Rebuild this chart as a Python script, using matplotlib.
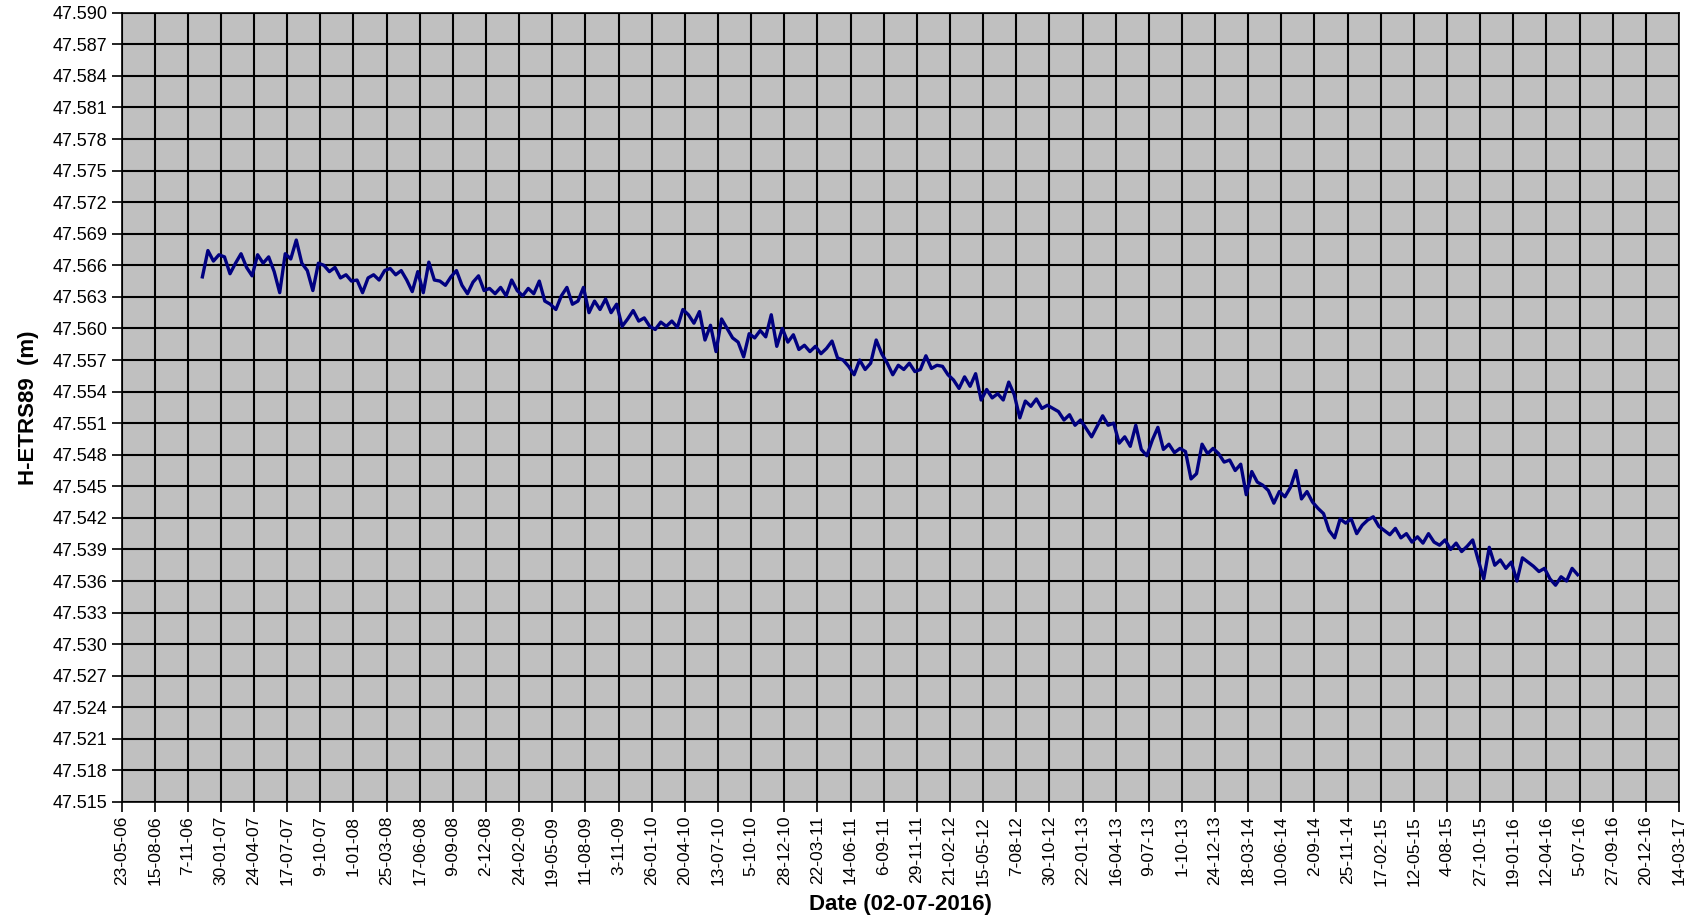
import matplotlib
matplotlib.use("Agg")
import matplotlib.pyplot as plt
import pandas as pd
import numpy as np
from datetime import datetime

plt.rcParams['font.family'] = ['Liberation Sans', 'DejaVu Sans']

# ---- data ----
start_date = "2006-12-14"
step = "14D"
heights = [
    47.5649, 47.5674, 47.5664, 47.5670,
    47.5668, 47.5652, 47.5662, 47.5671, 47.5658, 47.5650,
    47.5670, 47.5662, 47.5668, 47.5654, 47.5634, 47.5671,
    47.5666, 47.5684, 47.5662, 47.5655, 47.5636, 47.5662,
    47.5660, 47.5654, 47.5658, 47.5648, 47.5651, 47.5645,
    47.5646, 47.5634, 47.5648, 47.5651, 47.5646, 47.5655,
    47.5657, 47.5651, 47.5655, 47.5646, 47.5635, 47.5654,
    47.5634, 47.5663, 47.5646, 47.5645, 47.5641, 47.5649,
    47.5655, 47.5641, 47.5633, 47.5644, 47.5650, 47.5636,
    47.5638, 47.5633, 47.5639, 47.5631, 47.5646, 47.5636,
    47.5631, 47.5638, 47.5633, 47.5645, 47.5626, 47.5623,
    47.5618, 47.5631, 47.5639, 47.5623, 47.5626, 47.5639,
    47.5615, 47.5626, 47.5618, 47.5628, 47.5615, 47.5623,
    47.5602, 47.5609, 47.5617, 47.5607, 47.5610, 47.5602,
    47.5599, 47.5606, 47.5602, 47.5607, 47.5601, 47.5618,
    47.5613, 47.5605, 47.5616, 47.5589, 47.5603, 47.5578,
    47.5609, 47.5600, 47.5591, 47.5587, 47.5573, 47.5595,
    47.5591, 47.5598, 47.5592, 47.5613, 47.5583, 47.5600,
    47.5587, 47.5594, 47.5580, 47.5584, 47.5578, 47.5583,
    47.5576, 47.5581, 47.5588, 47.5572, 47.5570, 47.5564,
    47.5556, 47.5570, 47.5561, 47.5567, 47.5589, 47.5576,
    47.5567, 47.5556, 47.5565, 47.5561, 47.5567, 47.5559,
    47.5561, 47.5574, 47.5562, 47.5565, 47.5564, 47.5556,
    47.5551, 47.5543, 47.5554, 47.5545, 47.5557, 47.5532,
    47.5542, 47.5534, 47.5538, 47.5532, 47.5549, 47.5537,
    47.5515, 47.5531, 47.5526, 47.5533, 47.5524, 47.5527,
    47.5524, 47.5521, 47.5513, 47.5518, 47.5508, 47.5513,
    47.5505, 47.5497, 47.5507, 47.5517, 47.5508, 47.5510,
    47.5491, 47.5497, 47.5488, 47.5508, 47.5485, 47.5479,
    47.5494, 47.5506, 47.5485, 47.5490, 47.5482, 47.5486,
    47.5483, 47.5457, 47.5462, 47.5490, 47.5481, 47.5486,
    47.5481, 47.5473, 47.5475, 47.5465, 47.5471, 47.5442,
    47.5464, 47.5454, 47.5451, 47.5446, 47.5434, 47.5445,
    47.5440, 47.5449, 47.5465, 47.5438, 47.5445, 47.5435,
    47.5429, 47.5424, 47.5408, 47.5401, 47.5419, 47.5415,
    47.5419, 47.5405, 47.5413, 47.5418, 47.5421, 47.5412,
    47.5408, 47.5404, 47.5410, 47.5401, 47.5405, 47.5397,
    47.5402, 47.5396, 47.5405, 47.5397, 47.5394, 47.5399,
    47.5390, 47.5396, 47.5388, 47.5393, 47.5399, 47.5380,
    47.5362, 47.5392, 47.5375, 47.5380, 47.5372, 47.5378,
    47.5360, 47.5382, 47.5378, 47.5374, 47.5369, 47.5372,
    47.5362, 47.5356, 47.5364, 47.5360, 47.5372, 47.5366,
]
x_tick_labels = [
    "23-05-06", "15-08-06", "7-11-06", "30-01-07", "24-04-07", "17-07-07",
    "9-10-07", "1-01-08", "25-03-08", "17-06-08", "9-09-08", "2-12-08",
    "24-02-09", "19-05-09", "11-08-09", "3-11-09", "26-01-10", "20-04-10",
    "13-07-10", "5-10-10", "28-12-10", "22-03-11", "14-06-11", "6-09-11",
    "29-11-11", "21-02-12", "15-05-12", "7-08-12", "30-10-12", "22-01-13",
    "16-04-13", "9-07-13", "1-10-13", "24-12-13", "18-03-14", "10-06-14",
    "2-09-14", "25-11-14", "17-02-15", "12-05-15", "4-08-15", "27-10-15",
    "19-01-16", "12-04-16", "5-07-16", "27-09-16", "20-12-16", "14-03-17",
]
y_min, y_max, y_step = 47.515, 47.590, 0.003
x_label = "Date (02-07-2016)"
y_label = "H-ETRS89  (m)"

# ---- figure ----
dates = pd.date_range(start=start_date, periods=len(heights), freq=step)
tick_dates = [datetime.strptime(s, "%d-%m-%y") for s in x_tick_labels]
y_ticks = np.round(np.arange(y_min, y_max + y_step / 2, y_step), 3)

fig = plt.figure(figsize=(16.90, 9.23), dpi=100)
ax = fig.add_axes([0.0719, 0.1311, 0.9216, 0.8551])
ax.set_facecolor("#C0C0C0")

ax.plot(dates, heights, color="#000080", lw=2.4, zorder=3)

ax.set_xlim(tick_dates[0], tick_dates[-1])
ax.set_ylim(y_min, y_max)
ax.set_xticks(tick_dates)
ax.set_xticklabels(x_tick_labels, rotation=90, fontsize=12.5)
ax.set_yticks(y_ticks)
ax.set_yticklabels([f"{v:.3f}" for v in y_ticks], fontsize=13)
ax.grid(True, color="black", lw=1.5, zorder=1)
ax.set_axisbelow(True)
ax.tick_params(axis="both", direction="out", length=7, width=1.2, color="black", pad=3)
for s in ax.spines.values():
    s.set_color("black")
    s.set_linewidth(1.2)

ax.set_xlabel(x_label, fontsize=16, fontweight="bold", labelpad=6)
ax.set_ylabel(y_label, fontsize=16, fontweight="bold", labelpad=10)

fig.savefig("out.png", dpi=100, facecolor="white")
